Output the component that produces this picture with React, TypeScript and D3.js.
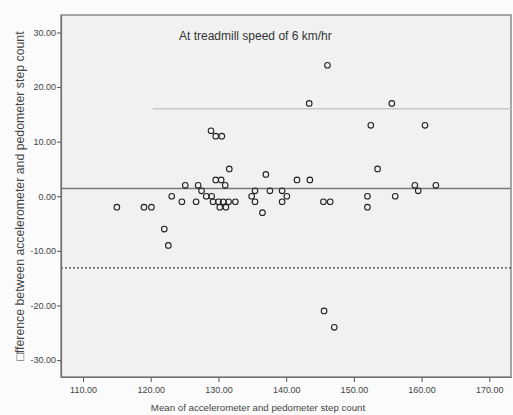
import React, { useEffect, useRef } from "react";
import * as d3 from "d3";

// mean step count (x) vs difference accelerometer - pedometer (y)
const meanSteps = [
  115.0, 119.0, 120.1, 122.0, 122.6, 123.1, 124.6, 125.1, 126.7, 127.0,
  127.5, 128.2, 129.0, 128.9, 129.6, 130.5, 131.6, 129.6, 130.4, 131.0,
  129.2, 130.0, 130.7, 131.5, 132.5, 130.2, 131.1, 134.9, 135.4, 135.4,
  136.5, 137.0, 137.6, 139.4, 140.1, 139.4, 141.6, 143.5, 143.4, 146.1,
  145.5, 146.5, 145.6, 147.1, 152.0, 152.0, 152.5, 153.5, 155.6, 156.1,
  159.0, 159.5, 160.5, 162.1,
];
const diffSteps = [
  -2, -2, -2, -6, -9, 0, -1, 2, -1, 2,
  1, 0, 0, 12, 11, 11, 5, 3, 3, 2,
  -1, -1, -1, -1, -1, -2, -2, 0, 1, -1,
  -3, 4, 1, 1, 0, -1, 3, 3, 17, 24,
  -1, -1, -21, -24, 0, -2, 13, 5, 17, 0,
  2, 1, 13, 2,
];

const xTicks = [110, 120, 130, 140, 150, 160, 170];
const yTicks = [-30, -20, -10, 0, 10, 20, 30];

const meanDiff = 1.43;
const upperLimit = 16.05;
const lowerLimit = -13.1;

const title = "At treadmill speed of 6 km/hr";
const xLabel = "Mean of accelerometer and pedometer step count";
const yLabel = "\u25A1fference between accelerometer and pedometer step count";

export default function App() {
  const ref = useRef<SVGSVGElement>(null);

  useEffect(() => {
    const svg = d3.select(ref.current);
    svg.selectAll("*").remove();

    const width = 513,
      height = 415;
    const left = 61,
      right = 511,
      top = 15,
      bottom = 377;
    const font = "Arial, 'Liberation Sans', sans-serif";

    const xScale = d3.scaleLinear().domain([106.75, 173.2]).range([left, right]);
    const yScale = d3.scaleLinear().domain([-33.1, 33.2]).range([bottom, top]);

    svg.append("rect").attr("width", width).attr("height", height).attr("fill", "#fbfbfb");

    svg
      .append("rect")
      .attr("x", left)
      .attr("y", top)
      .attr("width", right - left)
      .attr("height", bottom - top)
      .attr("fill", "#f1f1f1")
      .attr("stroke", "#707070")
      .attr("stroke-width", 1.2);

    // reference lines
    svg
      .append("line")
      .attr("x1", xScale(120.3))
      .attr("x2", right)
      .attr("y1", yScale(upperLimit))
      .attr("y2", yScale(upperLimit))
      .attr("stroke", "#c8c8c8")
      .attr("stroke-width", 1.5);
    svg
      .append("line")
      .attr("x1", left)
      .attr("x2", right)
      .attr("y1", yScale(meanDiff))
      .attr("y2", yScale(meanDiff))
      .attr("stroke", "#7a7a7a")
      .attr("stroke-width", 1.5);
    svg
      .append("line")
      .attr("x1", left)
      .attr("x2", right)
      .attr("y1", yScale(lowerLimit))
      .attr("y2", yScale(lowerLimit))
      .attr("stroke", "#444")
      .attr("stroke-width", 1.2)
      .attr("stroke-dasharray", "2,2");

    // axes
    const xAxis = svg
      .append("g")
      .attr("transform", "translate(0," + bottom + ")")
      .call(
        d3
          .axisBottom(xScale)
          .tickValues(xTicks)
          .tickFormat((d) => (d as number).toFixed(2))
          .tickSize(5)
          .tickSizeOuter(0)
      );
    xAxis.select(".domain").attr("stroke", "#707070").attr("stroke-width", 1.2);
    xAxis.selectAll(".tick line").attr("stroke", "#555");
    xAxis
      .selectAll("text")
      .attr("fill", "#444")
      .attr("font-family", font)
      .attr("font-size", "9px")
      .attr("dy", "0.9em");

    const yAxis = svg
      .append("g")
      .attr("transform", "translate(" + left + ",0)")
      .call(
        d3
          .axisLeft(yScale)
          .tickValues(yTicks)
          .tickFormat((d) => (d as number).toFixed(2))
          .tickSize(4)
          .tickSizeOuter(0)
      );
    yAxis.select(".domain").attr("stroke", "#707070").attr("stroke-width", 1.2);
    yAxis.selectAll(".tick line").attr("stroke", "#555");
    yAxis
      .selectAll("text")
      .attr("fill", "#444")
      .attr("font-family", font)
      .attr("font-size", "9px")
      .attr("x", -5);

    // points
    svg
      .append("g")
      .selectAll("circle")
      .data(meanSteps)
      .enter()
      .append("circle")
      .attr("cx", (d) => xScale(d))
      .attr("cy", (d, i) => yScale(diffSteps[i]))
      .attr("r", 2.8)
      .attr("fill", "none")
      .attr("stroke", "#222")
      .attr("stroke-width", 1.1);

    svg
      .append("text")
      .attr("x", 179)
      .attr("y", 40)
      .attr("fill", "#333")
      .attr("font-family", font)
      .attr("font-size", "12px")
      .text(title);

    svg
      .append("text")
      .attr("x", 258)
      .attr("y", 411)
      .attr("text-anchor", "middle")
      .attr("fill", "#444")
      .attr("font-family", font)
      .attr("font-size", "9.7px")
      .text(xLabel);

    svg
      .append("text")
      .attr("transform", "rotate(-90)")
      .attr("x", -196)
      .attr("y", 24)
      .attr("text-anchor", "middle")
      .attr("fill", "#444")
      .attr("font-family", font)
      .attr("font-size", "12.3px")
      .text(yLabel);
  }, []);

  return (
    <svg
      ref={ref}
      width={513}
      height={415}
      style={{ position: "absolute", left: 0, top: 0 }}
    />
  );
}
